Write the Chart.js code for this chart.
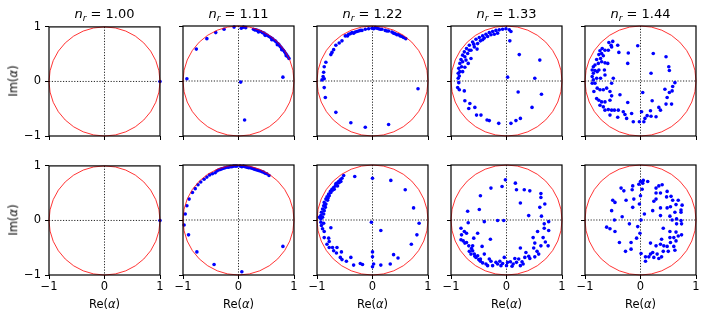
<!DOCTYPE html>
<html>
<head>
<meta charset="utf-8">
<script src="https://cdn.jsdelivr.net/npm/chart.js@4.4.0/dist/chart.umd.min.js"></script>
<style>
  html, body { margin: 0; padding: 0; background: #fff; }
  #fig { position: relative; width: 706px; height: 316px; overflow: hidden; font-family: "DejaVu Sans", sans-serif; color: #000; }
  #fig canvas { position: absolute; }
  .lbl { position: absolute; white-space: nowrap; line-height: 1; transform: translate(-50%, -50%); }
  .rot { transform: translate(-50%, -50%) rotate(-90deg); }
  .sub { font-size: 70%; position: relative; top: 0.26em; font-style: italic; }
</style>
</head>
<body>
<div id="fig"></div>
<script>
// refractive indices shown in the titles
const nrLabels = ["1.00", "1.11", "1.22", "1.33", "1.44"];
const tickValues = [-1, 0, 1];

// top row, [Re, Im] pairs
const ptsTop100 = [[1, 0]];
const ptsTop111 = [
  [-0.93, 0.04], [-0.76, 0.58], [-0.57, 0.77], [-0.41, 0.88], [-0.26, 0.94], [-0.08, 0.98],
  [0.05, 0.96], [0.09, 0.98], [0.13, 0.97],
  [0.27, 0.94], [0.29, 0.93], [0.31, 0.93], [0.34, 0.92], [0.37, 0.91], [0.40, 0.90], [0.43, 0.88],
  [0.46, 0.87], [0.49, 0.85], [0.52, 0.83], [0.55, 0.81], [0.58, 0.79], [0.61, 0.77], [0.63, 0.75],
  [0.66, 0.73], [0.68, 0.71], [0.71, 0.68], [0.73, 0.66], [0.75, 0.63], [0.77, 0.61], [0.79, 0.58],
  [0.81, 0.56], [0.83, 0.53], [0.85, 0.50], [0.87, 0.47], [0.89, 0.44], [0.91, 0.41],
  [0.36, 0.89], [0.48, 0.83], [0.60, 0.75], [0.70, 0.66], [0.78, 0.57], [0.86, 0.46],
  [0.80, 0.07], [0.04, -0.02], [0.11, -0.71]
];
const ptsTop122 = [
  [-0.49, 0.82], [-0.43, 0.85], [-0.37, 0.88], [-0.31, 0.89], [-0.25, 0.91], [-0.19, 0.92],
  [-0.13, 0.94], [-0.07, 0.95], [-0.01, 0.96], [0.05, 0.97], [0.11, 0.95], [0.17, 0.94],
  [0.23, 0.92], [0.29, 0.91], [0.35, 0.89], [0.41, 0.86], [0.47, 0.84], [0.53, 0.81], [0.60, 0.77],
  [-0.45, 0.82], [-0.40, 0.86], [-0.34, 0.87], [-0.28, 0.90], [-0.22, 0.92], [0.02, 0.95],
  [0.08, 0.96], [0.14, 0.94], [0.26, 0.91], [0.38, 0.87], [0.44, 0.84], [0.50, 0.82], [0.56, 0.79],
  [-0.55, 0.73], [-0.60, 0.69], [-0.66, 0.65], [-0.70, 0.57], [-0.73, 0.52], [-0.75, 0.48],
  [-0.84, 0.34], [-0.87, 0.26], [-0.88, 0.16], [-0.89, 0.08], [-0.91, 0.02], [-0.87, 0.04],
  [-0.87, -0.12], [-0.85, -0.30], [-0.66, -0.57], [-0.39, -0.76], [-0.13, -0.84], [0.29, -0.79],
  [0.82, -0.14]
];
const ptsTop133 = [
  [0.05, 0.93], [-0.01, 0.95], [-0.07, 0.94], [-0.13, 0.93], [-0.19, 0.92], [-0.25, 0.90],
  [-0.31, 0.88], [-0.37, 0.85], [-0.43, 0.82], [-0.49, 0.79], [-0.55, 0.76], [-0.61, 0.71],
  [-0.67, 0.65], [-0.72, 0.59], [-0.76, 0.53], [-0.79, 0.47], [-0.82, 0.39], [-0.84, 0.32],
  [-0.86, 0.23], [-0.87, 0.14], [-0.87, 0.05], [-0.86, -0.03],
  [0.08, 0.90], [-0.16, 0.87], [-0.28, 0.84], [-0.40, 0.78], [-0.47, 0.73], [-0.52, 0.68],
  [-0.58, 0.62], [-0.64, 0.56], [-0.70, 0.50], [-0.75, 0.44], [-0.79, 0.35], [-0.81, 0.26],
  [-0.84, 0.17], [-0.85, 0.09], [-0.53, 0.58], [-0.64, 0.41], [-0.69, 0.32], [-0.75, 0.25],
  [-0.79, 0.17], [-0.34, 0.81], [-0.22, 0.85], [-0.43, 0.75], [-0.59, 0.67], [-0.67, 0.56],
  [-0.73, 0.38],
  [0.06, 0.73], [0.23, 0.48], [0.60, 0.38], [0.02, 0.07], [0.51, 0.05], [0.21, -0.20],
  [0.63, -0.24], [0.46, -0.48], [0.25, -0.68], [0.17, -0.72], [0.08, -0.77], [-0.14, -0.77],
  [-0.31, -0.72], [-0.35, -0.71], [-0.46, -0.62], [-0.54, -0.62], [-0.57, -0.48], [-0.68, -0.50],
  [-0.66, -0.41], [-0.75, -0.36], [-0.76, -0.18], [-0.85, -0.16], [-0.88, -0.12]
];
const ptsTop144 = [
  [-0.57, 0.70], [-0.50, 0.72], [-0.41, 0.65], [-0.52, 0.62], [-0.58, 0.56], [-0.64, 0.56],
  [-0.69, 0.59], [-0.73, 0.55], [-0.70, 0.50], [-0.75, 0.48], [-0.67, 0.46], [-0.72, 0.41],
  [-0.79, 0.39], [-0.70, 0.35], [-0.64, 0.33], [-0.59, 0.32], [-0.76, 0.32], [-0.82, 0.29],
  [-0.85, 0.26], [-0.87, 0.20], [-0.82, 0.19], [-0.78, 0.17], [-0.75, 0.20], [-0.85, 0.14],
  [-0.87, 0.08], [-0.79, 0.05], [-0.72, 0.05], [-0.64, 0.11], [-0.65, 0.20], [-0.85, 0.02],
  [-0.82, -0.04], [-0.87, -0.04], [-0.78, -0.13], [-0.73, -0.16], [-0.84, -0.19], [-0.67, -0.16],
  [-0.61, -0.13], [-0.52, -0.04], [-0.49, 0.05], [-0.55, -0.19], [-0.79, -0.32], [-0.75, -0.35],
  [-0.70, -0.38], [-0.64, -0.38], [-0.55, -0.35], [-0.52, -0.27], [-0.37, -0.25], [-0.73, -0.44],
  [-0.67, -0.47], [-0.64, -0.53], [-0.58, -0.52], [-0.52, -0.53], [-0.47, -0.53], [-0.55, -0.62],
  [-0.41, -0.66], [-0.40, -0.53], [-0.31, -0.56], [-0.28, -0.61], [-0.25, -0.68], [-0.23, -0.39],
  [-0.16, -0.59], [-0.13, -0.74], [-0.02, -0.74], [0.06, -0.74], [0.02, -0.56], [0.08, -0.68],
  [0.12, -0.63], [0.18, -0.54], [0.19, -0.64], [0.28, -0.65], [0.33, -0.48], [0.36, -0.53],
  [0.46, -0.42], [0.56, -0.42], [0.48, -0.30], [0.57, -0.18], [0.44, -0.15], [0.52, -0.21],
  [0.62, -0.03], [0.58, -0.10], [0.21, -0.36], [0.04, -0.21], [0.19, 0.14], [0.52, 0.19],
  [0.51, 0.26], [0.46, 0.44], [0.23, 0.50], [-0.05, 0.64], [-0.22, 0.51], [-0.23, 0.32],
  [-0.39, 0.52], [-0.53, 0.65]
];

// bottom row
const ptsBot100 = [[1, 0]];
const ptsBot111 = [
  [-0.96, 0.11], [-0.93, 0.26], [-0.89, 0.38], [-0.83, 0.50], [-0.78, 0.57], [-0.73, 0.64],
  [-0.68, 0.69], [-0.62, 0.74], [-0.57, 0.78], [-0.52, 0.82], [-0.42, 0.86], [-0.39, 0.89],
  [-0.33, 0.92], [-0.27, 0.94], [-0.21, 0.96], [-0.15, 0.97], [-0.09, 0.98], [-0.03, 0.98],
  [0.03, 0.98], [0.09, 0.98], [0.15, 0.96], [0.21, 0.95], [0.27, 0.93], [0.33, 0.91],
  [0.39, 0.89], [0.45, 0.87], [0.51, 0.84], [0.55, 0.81],
  [0.06, 0.97], [0.12, 0.97], [0.18, 0.95], [0.24, 0.94], [0.30, 0.92], [0.36, 0.90],
  [0.42, 0.88], [0.48, 0.85], [-0.06, 0.98], [-0.12, 0.97], [-0.18, 0.96], [-0.24, 0.95],
  [-0.30, 0.93], [-0.36, 0.91], [-0.47, 0.84],
  [-0.98, -0.09], [-0.90, -0.27], [-0.75, -0.58], [-0.44, -0.81], [0.06, -0.94], [0.80, -0.48]
];
const ptsBot122 = [
  [-0.52, 0.81], [-0.55, 0.76], [-0.58, 0.73], [-0.61, 0.70], [-0.64, 0.67], [-0.67, 0.62],
  [-0.70, 0.59], [-0.73, 0.56], [-0.76, 0.52], [-0.79, 0.47], [-0.82, 0.42], [-0.84, 0.38],
  [-0.87, 0.32], [-0.88, 0.26], [-0.90, 0.20], [-0.92, 0.14], [-0.93, 0.08], [-0.93, 0.02],
  [-0.93, -0.04], [-0.92, -0.10], [-0.90, -0.16], [-0.87, -0.21],
  [-0.57, 0.70], [-0.63, 0.62], [-0.69, 0.56], [-0.75, 0.50], [-0.78, 0.44], [-0.81, 0.36],
  [-0.84, 0.29], [-0.85, 0.23], [-0.87, 0.17], [-0.88, 0.11], [-0.90, 0.05], [-0.88, -0.06],
  [-0.96, 0.05], [-0.66, 0.66], [-0.60, 0.68], [-0.72, 0.54], [-0.80, 0.40], [-0.86, 0.27],
  [-0.32, 0.79], [0.00, 0.76], [0.33, 0.72], [0.59, 0.55], [0.74, 0.22], [0.84, -0.06],
  [0.80, -0.27], [0.70, -0.44], [-0.02, -0.04], [0.15, -0.19], [-0.75, -0.14], [-0.87, -0.32],
  [-0.79, -0.33], [-0.78, -0.39], [-0.82, -0.44], [-0.78, -0.50], [-0.72, -0.50], [-0.64, -0.50],
  [-0.70, -0.56], [-0.65, -0.60], [-0.56, -0.58], [-0.58, -0.68], [-0.55, -0.72], [-0.47, -0.75],
  [-0.39, -0.68], [-0.34, -0.82], [-0.22, -0.79], [-0.18, -0.81], [0.00, -0.58], [0.00, -0.67],
  [0.02, -0.80], [0.00, -0.85], [0.15, -0.82], [0.32, -0.80], [0.38, -0.63], [0.46, -0.69]
];
const ptsBot133 = [
  [-0.02, 0.73], [-0.08, 0.61], [-0.28, 0.58], [0.16, 0.67], [0.18, 0.55], [0.32, 0.55],
  [0.42, 0.53], [0.62, 0.48], [0.62, 0.41], [0.69, 0.29], [0.60, 0.23], [0.25, 0.31],
  [-0.47, 0.44], [-0.49, 0.19], [-0.70, 0.16], [-0.40, -0.03], [-0.16, -0.01], [-0.05, -0.01],
  [0.40, 0.08], [0.63, 0.07], [0.76, -0.03], [-0.69, -0.05], [0.68, -0.07], [0.68, -0.15],
  [0.76, -0.19], [0.56, -0.21], [0.66, -0.32], [0.48, -0.32], [0.75, -0.47], [0.62, -0.47],
  [0.49, -0.51], [0.58, -0.62], [0.51, -0.67], [0.42, -0.70], [0.33, -0.68], [0.35, -0.59],
  [0.25, -0.51], [0.22, -0.71], [0.15, -0.70], [0.18, -0.77], [0.30, -0.80], [0.25, -0.83],
  [0.12, -0.80], [0.02, -0.77], [0.00, -0.83], [-0.04, -0.68], [-0.12, -0.75], [-0.10, -0.83],
  [-0.19, -0.77], [-0.25, -0.83], [-0.28, -0.75], [-0.37, -0.80], [-0.34, -0.83], [-0.31, -0.71],
  [-0.40, -0.62], [-0.47, -0.71], [-0.47, -0.75], [-0.55, -0.68], [-0.58, -0.62], [-0.52, -0.65],
  [-0.61, -0.56], [-0.64, -0.62], [-0.67, -0.57], [-0.68, -0.47], [-0.61, -0.47], [-0.75, -0.42],
  [-0.82, -0.36], [-0.78, -0.38], [-0.72, -0.41], [-0.59, -0.33], [-0.52, -0.24], [-0.44, -0.48],
  [-0.29, -0.35], [-0.81, -0.27], [-0.76, -0.21], [-0.72, -0.24], [-0.82, -0.15], [0.51, -0.42],
  [-0.63, -0.52], [-0.57, -0.66], [-0.50, -0.72], [-0.43, -0.78], [-0.16, -0.80], [-0.07, -0.79],
  [0.07, -0.76], [0.10, -0.84], [0.28, -0.76], [0.40, -0.66], [0.55, -0.57], [0.70, -0.40]
];
const ptsBot144 = [
  [0.00, 0.70], [-0.03, 0.65], [0.04, 0.67], [0.05, 0.72], [0.13, 0.70], [0.03, 0.56],
  [-0.14, 0.62], [-0.15, 0.55], [-0.35, 0.58], [-0.30, 0.53], [-0.50, 0.36], [-0.46, 0.32],
  [-0.52, 0.17], [-0.47, 0.00], [-0.33, 0.06], [-0.26, 0.36], [-0.12, 0.38], [-0.14, 0.23],
  [-0.02, 0.29], [0.00, 0.44], [0.28, 0.58], [0.33, 0.62], [0.39, 0.64], [0.28, 0.49],
  [0.36, 0.49], [0.48, 0.52], [0.47, 0.42], [0.55, 0.43], [0.58, 0.36], [0.68, 0.36],
  [0.54, 0.24], [0.48, 0.22], [0.36, 0.22], [0.28, 0.38], [0.24, 0.34], [0.75, 0.27],
  [0.64, 0.28], [0.73, 0.18], [0.73, 0.14], [0.62, 0.14], [0.53, 0.07], [0.36, 0.08],
  [0.22, 0.17], [0.07, 0.11], [0.01, 0.00], [0.65, 0.02], [0.73, -0.01], [0.74, -0.07],
  [0.65, -0.07], [0.57, 0.00], [-0.20, -0.07], [-0.05, -0.12], [-0.01, -0.24], [-0.07, -0.33],
  [-0.61, -0.13], [-0.55, -0.16], [-0.46, -0.21], [-0.38, -0.41], [-0.17, -0.41], [-0.17, -0.53],
  [-0.27, -0.57], [0.41, -0.15], [0.53, -0.21], [0.64, -0.22], [0.74, -0.27], [0.68, -0.29],
  [0.53, -0.32], [0.60, -0.32], [0.64, -0.38], [0.54, -0.41], [0.38, -0.35], [0.36, -0.44],
  [0.42, -0.47], [0.28, -0.47], [0.18, -0.42], [0.48, -0.48], [0.60, -0.48], [0.62, -0.55],
  [0.50, -0.57], [0.41, -0.57], [0.30, -0.62], [0.38, -0.67], [0.22, -0.59], [0.18, -0.62],
  [0.15, -0.67], [0.09, -0.67], [0.01, -0.61], [0.24, -0.68], [0.09, -0.75], [0.33, -0.70]
];

const rows = [
  [ptsTop100, ptsTop111, ptsTop122, ptsTop133, ptsTop144],
  [ptsBot100, ptsBot111, ptsBot122, ptsBot133, ptsBot144]
];

// panel geometry (page px)
const panelLeft = [49, 183, 317, 451, 585];
const panelTop = [26, 165];
const PW = 111, PH = 110;
const L = 40, R = 10, T = 10, B = 36;

const fig = document.getElementById("fig");
const minus = (v) => (v < 0 ? "\u2212" + Math.abs(v) : String(v));

// dotted zero lines, unit circle and frame
const guides = {
  id: "guides",
  beforeDatasetsDraw(chart) {
    const { ctx, chartArea: a, scales: { x, y } } = chart;
    const x0 = x.getPixelForValue(0), y0 = y.getPixelForValue(0);
    ctx.save();
    ctx.strokeStyle = "rgba(0,0,0,0.85)";
    ctx.lineWidth = 1;
    ctx.setLineDash([1.2, 1.6]);
    ctx.beginPath();
    ctx.moveTo(a.left, y0); ctx.lineTo(a.right, y0);
    ctx.moveTo(x0, a.top); ctx.lineTo(x0, a.bottom);
    ctx.stroke();
    ctx.restore();
  },
  afterDatasetsDraw(chart) {
    const { ctx, chartArea: a, scales: { x, y } } = chart;
    const x0 = x.getPixelForValue(0), y0 = y.getPixelForValue(0);
    const rx = x.getPixelForValue(1) - x0, ry = y0 - y.getPixelForValue(1);
    ctx.save();
    ctx.strokeStyle = "#ff0000";
    ctx.lineWidth = 0.8;
    ctx.beginPath();
    ctx.ellipse(x0, y0, rx, ry, 0, 0, 2 * Math.PI);
    ctx.stroke();
    ctx.strokeStyle = "#000";
    ctx.lineWidth = 1.2;
    ctx.strokeRect(a.left, a.top, a.width, a.height);
    ctx.restore();
  }
};

function addLabel(html, cx, cy, size, cls) {
  const d = document.createElement("div");
  d.className = "lbl" + (cls ? " " + cls : "");
  d.style.left = cx + "px";
  d.style.top = cy + "px";
  d.style.fontSize = size + "px";
  d.innerHTML = html;
  fig.appendChild(d);
}

rows.forEach((row, r) => {
  row.forEach((pts, c) => {
    const canvas = document.createElement("canvas");
    const w = L + PW + R, h = T + PH + B;
    canvas.width = w; canvas.height = h;
    canvas.style.width = w + "px"; canvas.style.height = h + "px";
    canvas.style.left = (panelLeft[c] - L) + "px";
    canvas.style.top = (panelTop[r] - T) + "px";
    fig.appendChild(canvas);

    const tickFont = { family: "DejaVu Sans", size: 11.5 };
    new Chart(canvas.getContext("2d"), {
      type: "scatter",
      data: {
        datasets: [{
          data: pts.map((p) => ({ x: p[0], y: p[1] })),
          backgroundColor: "#0000ff",
          borderWidth: 0,
          pointRadius: 1.8,
          pointHoverRadius: 0,
          clip: false
        }]
      },
      options: {
        responsive: false,
        animation: false,
        events: [],
        layout: { padding: { left: 0, top: T, right: R, bottom: 0 } },
        plugins: { legend: { display: false }, tooltip: { enabled: false } },
        scales: {
          x: {
            type: "linear", min: -1, max: 1,
            afterBuildTicks: (s) => { s.ticks = tickValues.map((v) => ({ value: v })); },
            afterFit: (s) => { s.height = B; },
            grid: { drawOnChartArea: false, drawTicks: true, tickLength: 4, tickColor: "#000", tickWidth: 1 },
            border: { display: false },
            ticks: { display: r === 1, color: "#000", font: tickFont, padding: 1, maxRotation: 0, callback: minus }
          },
          y: {
            type: "linear", min: -1, max: 1,
            afterBuildTicks: (s) => { s.ticks = tickValues.map((v) => ({ value: v })); },
            afterFit: (s) => { s.width = L; },
            grid: { drawOnChartArea: false, drawTicks: true, tickLength: 4, tickColor: "#000", tickWidth: 1 },
            border: { display: false },
            ticks: { display: c === 0, color: "#000", font: tickFont, padding: 4, callback: minus }
          }
        }
      },
      plugins: [guides]
    });

    const cx = panelLeft[c] + PW / 2;
    if (r === 0) {
      addLabel('<i>n</i><span class="sub">r</span> = ' + nrLabels[c], cx, 14.4, 13);
    }
    if (r === 1) {
      addLabel('Re(<i>\u03b1</i>)', cx, 304.5, 11.5);
    }
    if (c === 0) {
      addLabel('Im(<i>\u03b1</i>)', 13.5, panelTop[r] + PH / 2, 11.5, "rot");
    }
  });
});
</script>
</body>
</html>
